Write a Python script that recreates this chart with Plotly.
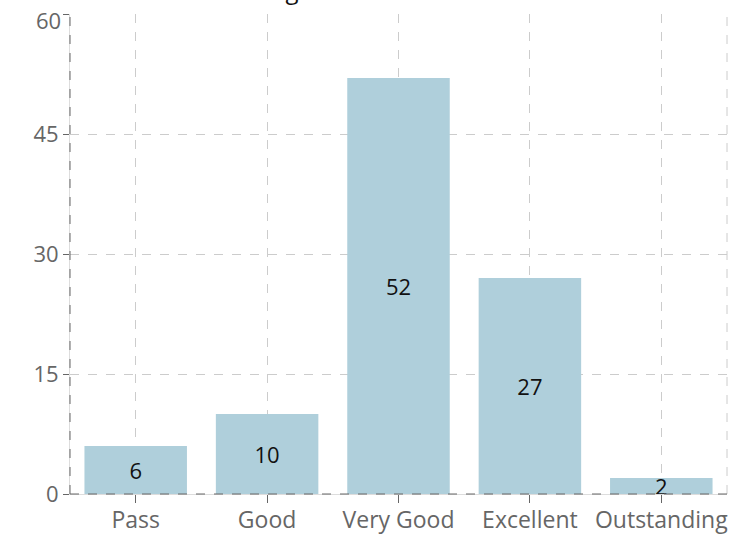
import plotly.graph_objects as go

categories = ["Pass", "Good", "Very Good", "Excellent", "Outstanding"]
counts = [6, 10, 52, 27, 2]
y_ticks = [0, 15, 30, 45, 60]

BAR_COLOR = "#AFCFDB"
AXIS_DARK = "#666666"
GRID = "#CCCCCC"
FONT = "Open Sans, Noto Sans, sans-serif"

fig = go.Figure(
    go.Bar(
        x=categories,
        y=counts,
        marker=dict(color=BAR_COLOR, line=dict(width=0)),
        text=[str(c) for c in counts],
        textposition="inside",
        insidetextanchor="middle",
        textangle=0,
        textfont=dict(color="#111111", size=22, family=FONT),
        hoverinfo="x+y",
    )
)

fig.update_layout(
    width=731,
    height=534,
    margin=dict(l=70, r=4, t=14, b=40, autoexpand=False),
    paper_bgcolor="white",
    plot_bgcolor="white",
    bargap=0.22,
    showlegend=False,
    font=dict(family=FONT, size=22, color=AXIS_DARK),
    uniformtext=dict(minsize=22, mode="show"),
    title=dict(
        text="Rating Distribution",
        font=dict(size=24, color="#111111", family=FONT),
        x=0.455,
        xanchor="center",
        y=1.0,
        yanchor="bottom",
        yref="container",
        pad=dict(b=1),
    ),
)

fig.update_xaxes(
    type="category",
    range=[-0.5, len(categories) - 0.5],
    automargin=False,
    showgrid=True,
    gridcolor=GRID,
    griddash="dash",
    gridwidth=1,
    showline=True,
    linecolor="#DDDDDD",
    linewidth=1,
    ticks="outside",
    ticklen=8,
    tickcolor=AXIS_DARK,
    ticklabelstandoff=-3,
    ticklabeloverflow="allow",
    tickfont=dict(size=23, color=AXIS_DARK, family=FONT),
    fixedrange=True,
)

# the top tick label is drawn separately below so it sits inside the page
y_ticktext = ["" if v == max(y_ticks) else str(v) for v in y_ticks]

fig.update_yaxes(
    range=[0, 60],
    tickvals=y_ticks,
    ticktext=y_ticktext,
    automargin=False,
    showgrid=True,
    gridcolor=GRID,
    griddash="dash",
    gridwidth=1,
    zeroline=False,
    showline=True,
    linecolor="#DDDDDD",
    linewidth=1,
    ticks="outside",
    ticklen=6,
    tickcolor=AXIS_DARK,
    ticklabeloverflow="allow",
    tickfont=dict(size=22, color=AXIS_DARK, family=FONT),
    fixedrange=True,
)

fig.add_annotation(
    x=0, xref="paper", xanchor="right", xshift=-7,
    y=max(y_ticks), yref="y", yanchor="top", yshift=11,
    text=str(max(y_ticks)), showarrow=False,
    font=dict(size=22, color=AXIS_DARK, family=FONT),
)

# dashed axis lines along the left and bottom, and a dashed frame edge on the right
fig.add_shape(type="line", xref="paper", yref="paper", x0=0, x1=0, y0=0, y1=1,
              line=dict(color=AXIS_DARK, width=1, dash="dash"), layer="above")
fig.add_shape(type="line", xref="paper", yref="paper", x0=0, x1=1, y0=0, y1=0,
              line=dict(color=AXIS_DARK, width=1, dash="dash"), layer="above")
fig.add_shape(type="line", xref="paper", yref="paper", x0=1, x1=1, y0=0, y1=1,
              line=dict(color=GRID, width=1, dash="dash"), layer="below")

fig.write_html("out.html")
